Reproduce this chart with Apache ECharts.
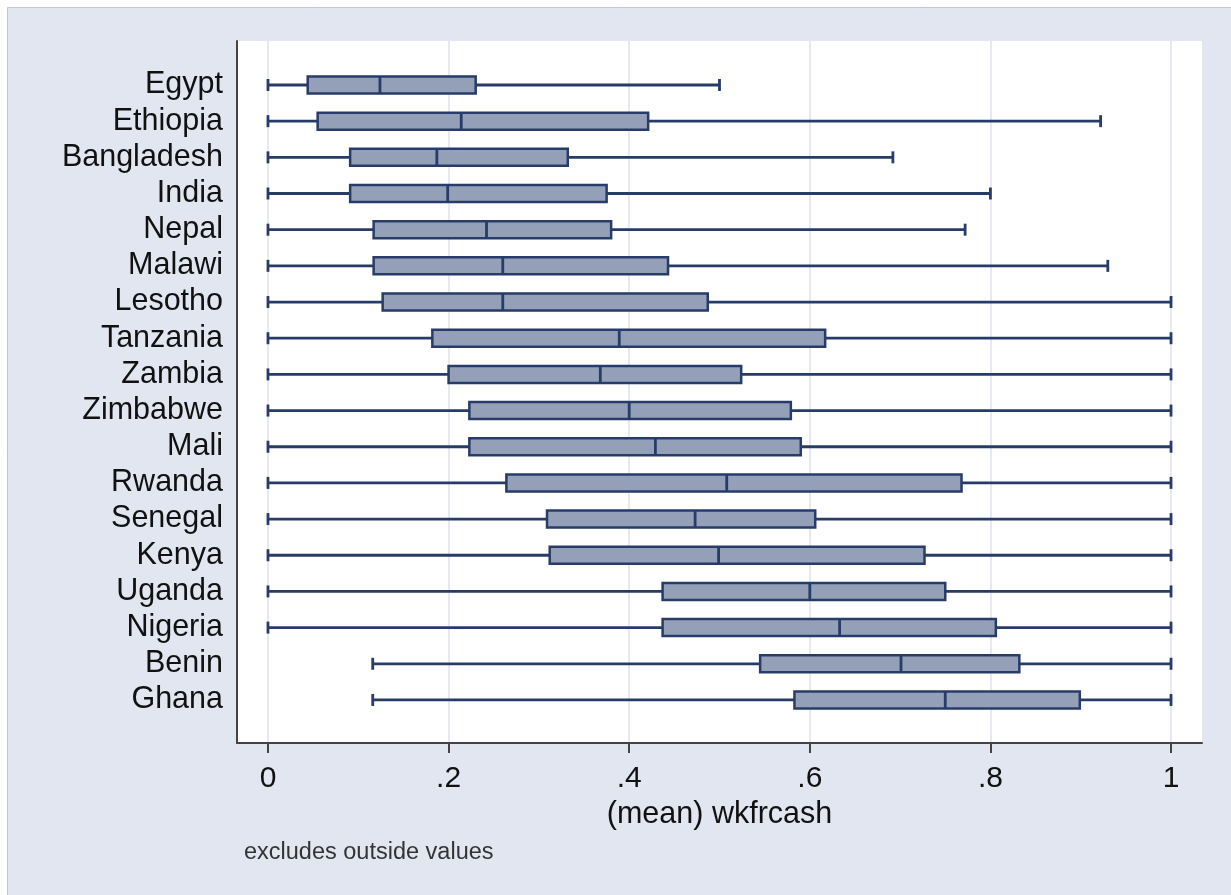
<!DOCTYPE html>
<html>
<head>
<meta charset="utf-8">
<title>wkfrcash by country</title>
<script src="https://cdn.jsdelivr.net/npm/echarts@6/dist/echarts.min.js"></script>
<style>
  html, body { margin: 0; padding: 0; background: #ffffff; }
  #chart { width: 1231px; height: 895px; }
</style>
</head>
<body>
<div id="chart"></div>
<script>
// Countries, top to bottom
const countries = ['Egypt', 'Ethiopia', 'Bangladesh', 'India', 'Nepal', 'Malawi', 'Lesotho',
  'Tanzania', 'Zambia', 'Zimbabwe', 'Mali', 'Rwanda', 'Senegal', 'Kenya', 'Uganda',
  'Nigeria', 'Benin', 'Ghana'];

// Box plot statistics of (mean) wkfrcash per country
const lowWhisker  = [0, 0, 0, 0, 0, 0, 0, 0, 0, 0, 0, 0, 0, 0, 0, 0, 0.116, 0.116];
const lowerQuart  = [0.044, 0.055, 0.091, 0.091, 0.117, 0.117, 0.127, 0.182, 0.200, 0.223,
                     0.223, 0.264, 0.309, 0.312, 0.437, 0.437, 0.545, 0.583];
const medianVal   = [0.124, 0.214, 0.187, 0.199, 0.242, 0.260, 0.260, 0.389, 0.368, 0.400,
                     0.429, 0.508, 0.473, 0.499, 0.600, 0.633, 0.701, 0.750];
const upperQuart  = [0.230, 0.421, 0.332, 0.375, 0.380, 0.443, 0.487, 0.617, 0.524, 0.579,
                     0.590, 0.768, 0.606, 0.727, 0.750, 0.806, 0.832, 0.899];
const highWhisker = [0.500, 0.922, 0.692, 0.800, 0.772, 0.930, 1, 1, 1, 1, 1, 1, 1, 1, 1, 1, 1, 1];

// X axis ticks
const tickValues = [0, 0.2, 0.4, 0.6, 0.8, 1];
const tickLabels = ['0', '.2', '.4', '.6', '.8', '1'];

const rows = countries.map((c, i) =>
  [i, lowWhisker[i], lowerQuart[i], medianVal[i], upperQuart[i], highWhisker[i]]);

const navy = '#283c6a';
const boxFill = '#949fb8';
const font = '"Liberation Sans", Arial, Helvetica, sans-serif';

function renderBox(params, api) {
  const i = api.value(0);
  const y = api.coord([0, i])[1];
  const xAt = k => api.coord([api.value(k), i])[0];
  const xLo = xAt(1), xQ1 = xAt(2), xMed = xAt(3), xQ3 = xAt(4), xHi = xAt(5);
  const halfBox = 8.5;
  const halfCap = 6;
  const lineStyle = { stroke: navy, lineWidth: 2.8 };
  return {
    type: 'group',
    children: [
      { type: 'line', shape: { x1: xLo, y1: y, x2: xQ1, y2: y }, style: lineStyle },
      { type: 'line', shape: { x1: xQ3, y1: y, x2: xHi, y2: y }, style: lineStyle },
      { type: 'line', shape: { x1: xLo, y1: y - halfCap, x2: xLo, y2: y + halfCap }, style: lineStyle },
      { type: 'line', shape: { x1: xHi, y1: y - halfCap, x2: xHi, y2: y + halfCap }, style: lineStyle },
      { type: 'rect', shape: { x: xQ1, y: y - halfBox, width: xQ3 - xQ1, height: halfBox * 2 },
        style: { fill: boxFill, stroke: navy, lineWidth: 2.5 } },
      { type: 'line', shape: { x1: xMed, y1: y - halfBox, x2: xMed, y2: y + halfBox }, style: lineStyle }
    ]
  };
}

const chart = echarts.init(document.getElementById('chart'), null, { renderer: 'canvas' });

chart.setOption({
  animation: false,
  backgroundColor: '#e1e6f0',
  graphic: [
    { type: 'rect', shape: { x: 0, y: 0, width: 1231, height: 7.5 }, style: { fill: '#ffffff' } },
    { type: 'rect', shape: { x: 0, y: 0, width: 7.5, height: 895 }, style: { fill: '#ffffff' } },
    { type: 'line', shape: { x1: 7.5, y1: 7.5, x2: 1231, y2: 7.5 }, style: { stroke: '#c2c5cb', lineWidth: 1 } },
    { type: 'line', shape: { x1: 7.5, y1: 7.5, x2: 7.5, y2: 895 }, style: { stroke: '#c2c5cb', lineWidth: 1 } }
  ],
  title: {
    text: 'excludes outside values',
    left: 239,
    top: 836,
    textStyle: { fontFamily: font, fontSize: 23.5, fontWeight: 'normal', color: '#333333' }
  },
  grid: {
    left: 237, top: 41, right: 29, bottom: 152,
    show: true, backgroundColor: '#ffffff', borderWidth: 0
  },
  xAxis: {
    type: 'value',
    min: -0.0343,
    max: 1.0343,
    name: '(mean) wkfrcash',
    nameLocation: 'middle',
    nameGap: 51,
    nameTextStyle: { fontFamily: font, fontSize: 30.5, color: '#111111' },
    axisLine: { show: true, onZero: false, lineStyle: { color: '#444444', width: 2 } },
    axisTick: { show: true, length: 10, customValues: tickValues, lineStyle: { color: '#444444', width: 2 } },
    axisLabel: {
      customValues: tickValues,
      formatter: v => tickLabels[tickValues.indexOf(v)],
      fontFamily: font, fontSize: 30, color: '#111111', margin: 21
    },
    splitLine: { show: true, lineStyle: { color: '#dce2ee', width: 1.5 } }
  },
  yAxis: {
    type: 'value',
    inverse: true,
    min: -1.216,
    max: 18.19,
    axisLine: { show: true, onZero: false, lineStyle: { color: '#444444', width: 2 } },
    axisTick: { show: false, customValues: countries.map((c, i) => i) },
    axisLabel: {
      customValues: countries.map((c, i) => i),
      formatter: v => countries[v],
      fontFamily: font, fontSize: 30.5, color: '#111111', margin: 14
    },
    splitLine: { show: false }
  },
  series: [{
    type: 'custom',
    renderItem: renderBox,
    encode: { x: [1, 2, 3, 4, 5], y: 0 },
    data: rows,
    z: 3
  }]
});
</script>
</body>
</html>
